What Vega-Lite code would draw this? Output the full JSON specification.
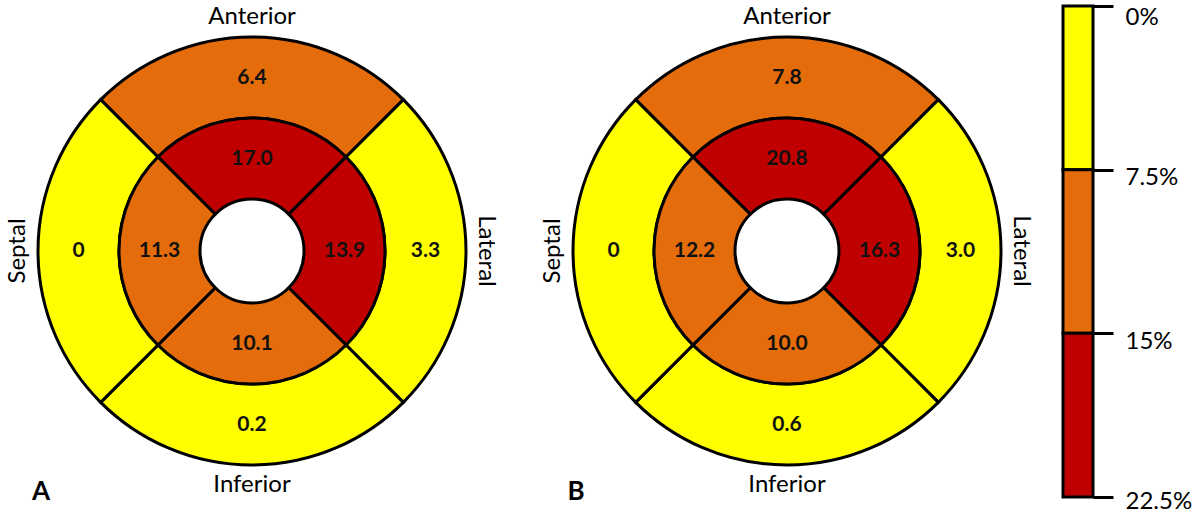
{
  "$schema": "https://vega.github.io/schema/vega-lite/v6.json",
  "width": 1200,
  "height": 502,
  "padding": {"left": 0, "top": 0, "right": 0, "bottom": 12},
  "autosize": {"type": "none"},
  "background": "white",
  "config": {"view": {"stroke": null}, "font": "Lato"},
  "datasets": {
    "segments": [
      {"panel": "A", "ring": "outer", "region": "Anterior", "value": 6.4, "cls": "7.5-15%"},
      {"panel": "A", "ring": "outer", "region": "Lateral", "value": 3.3, "cls": "0-7.5%"},
      {"panel": "A", "ring": "outer", "region": "Inferior", "value": 0.2, "cls": "0-7.5%"},
      {"panel": "A", "ring": "outer", "region": "Septal", "value": 0, "cls": "0-7.5%"},
      {"panel": "A", "ring": "inner", "region": "Anterior", "value": 17.0, "cls": "15-22.5%"},
      {"panel": "A", "ring": "inner", "region": "Lateral", "value": 13.9, "cls": "15-22.5%"},
      {"panel": "A", "ring": "inner", "region": "Inferior", "value": 10.1, "cls": "7.5-15%"},
      {"panel": "A", "ring": "inner", "region": "Septal", "value": 11.3, "cls": "7.5-15%"},
      {"panel": "B", "ring": "outer", "region": "Anterior", "value": 7.8, "cls": "7.5-15%"},
      {"panel": "B", "ring": "outer", "region": "Lateral", "value": 3.0, "cls": "0-7.5%"},
      {"panel": "B", "ring": "outer", "region": "Inferior", "value": 0.6, "cls": "0-7.5%"},
      {"panel": "B", "ring": "outer", "region": "Septal", "value": 0, "cls": "0-7.5%"},
      {"panel": "B", "ring": "inner", "region": "Anterior", "value": 20.8, "cls": "15-22.5%"},
      {"panel": "B", "ring": "inner", "region": "Lateral", "value": 16.3, "cls": "15-22.5%"},
      {"panel": "B", "ring": "inner", "region": "Inferior", "value": 10.0, "cls": "7.5-15%"},
      {"panel": "B", "ring": "inner", "region": "Septal", "value": 12.2, "cls": "7.5-15%"}
    ],
    "legendbands": [
      {"lo": 0, "hi": 7.5, "cls": "0-7.5%"},
      {"lo": 7.5, "hi": 15, "cls": "7.5-15%"},
      {"lo": 15, "hi": 22.5, "cls": "15-22.5%"}
    ],
    "panels": [{"panel": "A"}, {"panel": "B"}]
  },
  "resolve": {"scale": {"x": "independent", "y": "independent"}},
  "layer": [
    {
      "layer": [
        {
          "data": {"name": "segments"},
          "mark": {"type": "arc", "stroke": "black", "strokeWidth": 3},
          "encoding": {
            "x": {"field": "panel", "type": "nominal", "scale": {"type": "point", "domain": ["A", "B"], "range": [252, 787], "padding": 0}, "axis": null},
            "theta": {"field": "region", "type": "nominal", "scale": {"type": "band", "domain": ["Anterior", "Lateral", "Inferior", "Septal"], "range": [-0.7854, 5.4978], "paddingInner": 0, "paddingOuter": 0}},
            "radius": {"field": "ring", "type": "nominal", "scale": {"type": "band", "domain": ["inner", "outer"], "range": [52, 214], "paddingInner": 0, "paddingOuter": 0}},
            "color": {"field": "cls", "type": "nominal", "scale": {"domain": ["0-7.5%", "7.5-15%", "15-22.5%"], "range": ["#FFFF00", "#E46C0A", "#C00000"]}, "legend": null}
          }
        },
        {
          "data": {"name": "segments"},
          "mark": {"type": "text", "font": "Lato", "fontWeight": "bold", "fontSize": 21, "color": "#111111", "baseline": "middle", "align": "center"},
          "encoding": {
            "x": {"field": "panel", "type": "nominal", "axis": null},
            "theta": {"field": "region", "type": "nominal", "bandPosition": 0.5},
            "radius": {"field": "ring", "type": "nominal", "bandPosition": 0.5},
            "text": {"condition": {"test": "datum.value === 0", "value": "0"}, "field": "value", "type": "quantitative", "format": ".1f"}
          }
        },
        {
          "data": {"name": "segments"},
          "transform": [{"filter": "datum.ring === 'outer'"}],
          "mark": {"type": "text", "font": "Lato", "fontSize": 24, "color": "black", "baseline": "middle", "align": "center", "radiusOffset": 20},
          "encoding": {
            "x": {"field": "panel", "type": "nominal", "axis": null},
            "theta": {"field": "region", "type": "nominal", "bandPosition": 0.5},
            "radius": {"field": "ring", "type": "nominal", "bandPosition": 1},
            "angle": {"condition": [{"test": "datum.region === 'Septal'", "value": 270}, {"test": "datum.region === 'Lateral'", "value": 90}], "value": 0},
            "text": {"field": "region", "type": "nominal"}
          }
        },
        {
          "data": {"name": "panels"},
          "mark": {"type": "text", "font": "Lato", "fontWeight": "bold", "fontSize": 26, "color": "black", "baseline": "middle", "align": "center", "dx": -211, "dy": 241},
          "encoding": {
            "x": {"field": "panel", "type": "nominal", "axis": null},
            "text": {"field": "panel", "type": "nominal"}
          }
        }
      ]
    },
    {
      "data": {"name": "legendbands"},
      "mark": {"type": "rect", "stroke": "black", "strokeWidth": 3},
      "encoding": {
        "x": {"datum": "legend", "type": "nominal", "scale": {"type": "band", "domain": ["legend"], "range": [1063, 1093], "paddingInner": 0, "paddingOuter": 0}, "axis": null},
        "y": {"field": "lo", "type": "quantitative", "scale": {"domain": [0, 22.5], "range": [6, 497], "zero": false, "nice": false},
          "axis": {"orient": "right", "offset": -107, "values": [0, 7.5, 15, 22.5], "labelExpr": "datum.value + '%'", "domain": false, "grid": false, "ticks": true, "tickSize": 20, "tickWidth": 3, "tickColor": "black", "labelFont": "Lato", "labelFontSize": 24, "labelColor": "black", "labelPadding": 12, "labelFlush": false, "labelOverlap": false,
            "labelOffset": {"condition": [{"test": "datum.value === 22.5", "value": 4}, {"test": "datum.value === 0", "value": 11}], "value": 8},
            "labelBaseline": "middle", "title": null}},
        "y2": {"field": "hi"},
        "color": {"field": "cls", "type": "nominal", "legend": null}
      }
    }
  ]
}
